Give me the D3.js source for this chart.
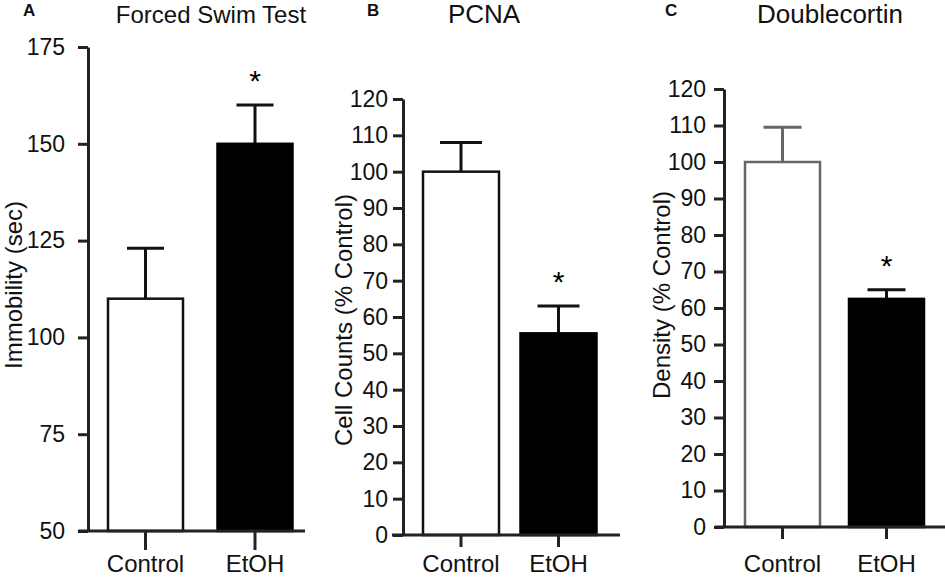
<!DOCTYPE html>
<html lang="en">
<head>
  <meta charset="UTF-8">
  <title>Forced Swim Test, PCNA, Doublecortin</title>
  <script src="https://d3js.org/d3.v7.min.js"></script>
  <style>
    body {
      margin: 0;
      background: #fff;
    }
    svg {
      display: block;
      font-family: "Liberation Sans", Arial, sans-serif;
    }
    .axis path, .axis line {
      stroke: #222;
      stroke-width: 3;
    }
    .axis text {
      fill: #111;
    }
  </style>
</head>
<body>
  <svg width="945" height="578"></svg>

  <script>
    // data
    const categories = ["Control", "EtOH"];
    const letters = ["A", "B", "C"];
    const titles = ["Forced Swim Test", "PCNA", "Doublecortin"];
    const yLabels = ["Immobility (sec)", "Cell Counts (% Control)", "Density (% Control)"];

    const swimMeans = [110, 150];
    const swimErrors = [13, 10];
    const pcnaMeans = [100, 55.5];
    const pcnaErrors = [8, 7.5];
    const dcxMeans = [100, 62.5];
    const dcxErrors = [9.5, 2.5];

    const swimTicks = [50, 75, 100, 125, 150, 175];
    const percentTicks = [0, 10, 20, 30, 40, 50, 60, 70, 80, 90, 100, 110, 120];

    const significant = [false, true];

    // layout for each panel (pixels)
    const panels = [
      {
        means: swimMeans, errors: swimErrors, ticks: swimTicks, domain: [50, 175],
        yAxisX: 88, yRange: [531, 47], xAxis: [78, 305], centers: [145.5, 255], barWidth: 75,
        tickPad: 13, capWidth: 37, catTick: 19,
        letterX: 23, titleX: 211, titleSize: 24, yLabelX: 22, yLabelY: 285,
        controlStroke: "#111"
      },
      {
        means: pcnaMeans, errors: pcnaErrors, ticks: percentTicks, domain: [0, 120],
        yAxisX: 403, yRange: [535, 99], xAxis: [392, 620], centers: [461, 558.5], barWidth: 76,
        tickPad: 5, capWidth: 42, catTick: 12,
        letterX: 367, titleX: 484, titleSize: 26, yLabelX: 352, yLabelY: 320,
        controlStroke: "#111"
      },
      {
        means: dcxMeans, errors: dcxErrors, ticks: percentTicks, domain: [0, 120],
        yAxisX: 724, yRange: [527, 89], xAxis: [715, 945], centers: [782.5, 886.5], barWidth: 75,
        tickPad: 8, capWidth: 38, catTick: 12,
        letterX: 665, titleX: 830, titleSize: 26, yLabelX: 670, yLabelY: 295,
        controlStroke: "#666"
      }
    ];

    const svg = d3.select("svg");

    panels.forEach((p, k) => {
      const g = svg.append("g");

      const y = d3.scaleLinear().domain(p.domain).range(p.yRange);
      const step = p.centers[1] - p.centers[0];
      const x = d3.scaleBand()
        .domain(categories)
        .range([p.centers[0] - step / 2, p.centers[1] + step / 2])
        .paddingInner(1 - p.barWidth / step)
        .paddingOuter((1 - p.barWidth / step) / 2);

      const rows = categories.map((c, i) => ({
        name: c, mean: p.means[i], err: p.errors[i], star: significant[i], i: i
      }));

      // error bars (drawn first, bar covers the lower half)
      const eb = g.selectAll(".err").data(rows).enter().append("g")
        .attr("stroke", d => d.i === 0 ? p.controlStroke : "#111")
        .attr("stroke-width", 3);
      eb.append("line")
        .attr("x1", d => x(d.name) + x.bandwidth() / 2)
        .attr("x2", d => x(d.name) + x.bandwidth() / 2)
        .attr("y1", d => y(d.mean))
        .attr("y2", d => y(d.mean + d.err));
      eb.append("line")
        .attr("x1", d => x(d.name) + x.bandwidth() / 2 - p.capWidth / 2)
        .attr("x2", d => x(d.name) + x.bandwidth() / 2 + p.capWidth / 2)
        .attr("y1", d => y(d.mean + d.err))
        .attr("y2", d => y(d.mean + d.err));

      // bars
      g.selectAll(".bar").data(rows).enter().append("rect")
        .attr("x", d => x(d.name))
        .attr("width", x.bandwidth())
        .attr("y", d => y(d.mean))
        .attr("height", d => y(p.domain[0]) - y(d.mean))
        .attr("fill", d => d.i === 0 ? "#fff" : "#000")
        .attr("stroke", d => d.i === 0 ? p.controlStroke : "#000")
        .attr("stroke-width", 2.5);

      // asterisks
      g.selectAll(".star").data(rows.filter(d => d.star)).enter().append("text")
        .attr("x", d => x(d.name) + x.bandwidth() / 2)
        .attr("y", d => y(d.mean + d.err) - 14)
        .attr("text-anchor", "middle")
        .attr("font-size", 30)
        .attr("fill", "#000")
        .text("*");

      // y axis
      g.append("g")
        .attr("class", "axis")
        .attr("transform", `translate(${p.yAxisX},0)`)
        .call(d3.axisLeft(y).tickValues(p.ticks).tickSize(10).tickSizeOuter(0).tickPadding(p.tickPad))
        .call(a => a.selectAll("text").attr("font-size", 23));

      // x axis
      g.append("line")
        .attr("x1", p.xAxis[0]).attr("x2", p.xAxis[1])
        .attr("y1", y(p.domain[0])).attr("y2", y(p.domain[0]))
        .attr("stroke", "#222").attr("stroke-width", 3);
      const xa = g.append("g")
        .attr("class", "axis")
        .attr("transform", `translate(0,${y(p.domain[0])})`)
        .call(d3.axisBottom(x).tickSize(p.catTick).tickPadding(0));
      xa.select(".domain").remove();
      xa.selectAll("text")
        .attr("font-size", 24)
        .attr("dy", null)
        .attr("y", 572 - y(p.domain[0]));

      // y label
      g.append("text")
        .attr("transform", `translate(${p.yLabelX},${p.yLabelY}) rotate(-90)`)
        .attr("text-anchor", "middle")
        .attr("font-size", 24)
        .attr("fill", "#111")
        .text(yLabels[k]);

      // title and panel letter
      g.append("text")
        .attr("x", p.titleX).attr("y", 23)
        .attr("text-anchor", "middle")
        .attr("font-size", p.titleSize)
        .attr("fill", "#111")
        .text(titles[k]);
      g.append("text")
        .attr("x", p.letterX).attr("y", 16)
        .attr("font-size", 17)
        .attr("font-weight", "bold")
        .attr("fill", "#111")
        .text(letters[k]);
    });
  </script>
</body>
</html>
